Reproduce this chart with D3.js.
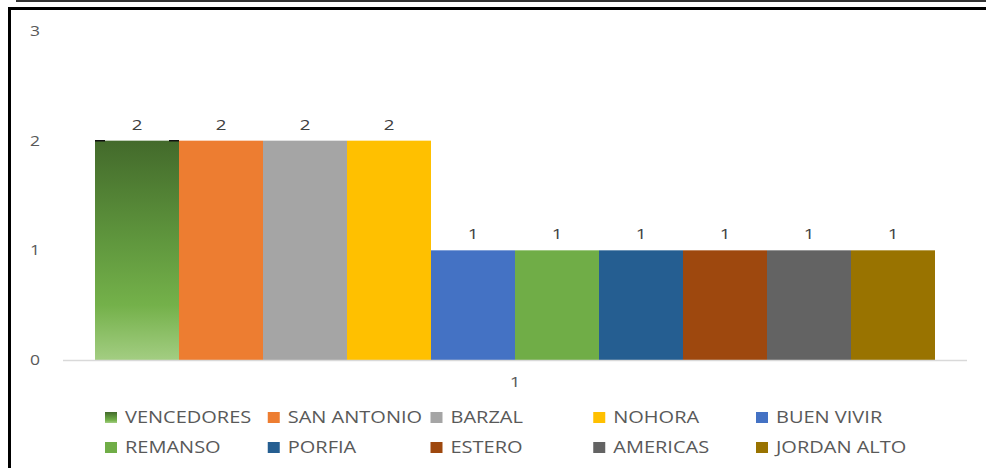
<!DOCTYPE html>
<html>
<head>
<meta charset="utf-8">
<script src="https://cdn.jsdelivr.net/npm/d3@7"></script>
<style>
  body { margin: 0; background: #fff; }
  svg text { font-family: "Open Sans", "Noto Sans", sans-serif; }
</style>
</head>
<body>
<svg id="chart" width="986" height="468"></svg>
<script>
// data
var categories = ['1']
var barrios = ['VENCEDORES', 'SAN ANTONIO', 'BARZAL', 'NOHORA', 'BUEN VIVIR',
               'REMANSO', 'PORFIA', 'ESTERO', 'AMERICAS', 'JORDAN ALTO']
var valores = [2, 2, 2, 2, 1, 1, 1, 1, 1, 1]
var yTicks = [0, 1, 2, 3]
var colores = ['url(#gradVenc)', '#ED7D31', '#A5A5A5', '#FFC000', '#4472C4',
               '#70AD47', '#255E91', '#9E480E', '#636363', '#997300']

// text in the original is stretched horizontally
var stretch = 1.25

var svg = d3.select('#chart')

// gradient for the first bar
var defs = svg.append('defs')
var grad = defs.append('linearGradient')
    .attr('id', 'gradVenc')
    .attr('x1', 0).attr('y1', 0).attr('x2', 0).attr('y2', 1)
grad.append('stop').attr('offset', '0%').attr('stop-color', '#436a2b')
grad.append('stop').attr('offset', '45%').attr('stop-color', '#5f963d')
grad.append('stop').attr('offset', '75%').attr('stop-color', '#74b14a')
grad.append('stop').attr('offset', '100%').attr('stop-color', '#a3cd82')

// frame lines
svg.append('line').attr('x1', 16).attr('x2', 986).attr('y1', 1).attr('y2', 1)
    .attr('stroke', '#333').attr('stroke-width', 2)
svg.append('path')
    .attr('d', 'M9.5,468 V8.5 H986')
    .attr('fill', 'none').attr('stroke', '#000').attr('stroke-width', 3)

var yScale = d3.scaleLinear().domain([0, 3]).range([360, 31])
var x0 = d3.scaleBand().domain(categories).range([63, 967]).padding(0)
var x1 = d3.scaleBand().domain(barrios).range([32, x0.bandwidth() - 32]).padding(0)

function place(x, y) {
    return 'translate(' + x + ',' + y + ') scale(' + stretch + ',1)'
}

// y tick labels
svg.selectAll('.ytick').data(yTicks)
    .enter()
    .append('text')
    .attr('class', 'ytick')
    .attr('transform', d => place(35, yScale(d)))
    .attr('dy', '0.35em')
    .attr('text-anchor', 'middle')
    .attr('font-size', 14)
    .attr('fill', '#595959')
    .text(d => d)

// bars
var g = svg.append('g')
    .attr('transform', 'translate(' + x0('1') + ',0)')

g.selectAll('.bar').data(barrios)
    .enter()
    .append('rect')
    .attr('class', 'bar')
    .attr('x', d => x1(d))
    .attr('width', x1.bandwidth())
    .attr('y', (d, i) => yScale(valores[i]))
    .attr('height', (d, i) => yScale(0) - yScale(valores[i]))
    .attr('fill', (d, i) => colores[i])

// little dark corners on top of the first bar
g.append('path')
    .attr('d', 'M' + x1('VENCEDORES') + ',' + yScale(2) + 'h10 M' + (x1('VENCEDORES') + x1.bandwidth() - 10) + ',' + yScale(2) + 'h10')
    .attr('stroke', '#111').attr('stroke-width', 1.5)

g.selectAll('.lbl').data(barrios)
    .enter()
    .append('text')
    .attr('class', 'lbl')
    .attr('transform', (d, i) => place(x1(d) + x1.bandwidth() / 2, yScale(valores[i]) - 11))
    .attr('text-anchor', 'middle')
    .attr('font-size', 15)
    .attr('fill', '#404040')
    .text((d, i) => valores[i])

// baseline
svg.append('line')
    .attr('x1', 63).attr('x2', 967)
    .attr('y1', yScale(0) + 0.5).attr('y2', yScale(0) + 0.5)
    .attr('stroke', '#d9d9d9').attr('stroke-width', 1.5)

// x axis label
svg.selectAll('.xlbl').data(categories)
    .enter()
    .append('text')
    .attr('class', 'xlbl')
    .attr('transform', d => place(x0(d) + x0.bandwidth() / 2, 387))
    .attr('text-anchor', 'middle')
    .attr('font-size', 15)
    .attr('fill', '#595959')
    .text(d => d)

// legend
var legendX = d3.scalePoint().domain([0, 1, 2, 3, 4]).range([105, 756])
var legendY = [417, 447]
var legend = svg.selectAll('.legenditem').data(barrios)
    .enter()
    .append('g')
    .attr('class', 'legenditem')
    .attr('transform', (d, i) => 'translate(' + legendX(i % 5) + ',' + legendY[Math.floor(i / 5)] + ')')

legend.append('rect')
    .attr('x', 0).attr('y', -5)
    .attr('width', 12).attr('height', 11)
    .attr('fill', (d, i) => colores[i])

legend.append('text')
    .attr('transform', place(20, 0))
    .attr('dy', '0.36em')
    .attr('font-size', 16)
    .attr('fill', '#595959')
    .text(d => d)
</script>
</body>
</html>
